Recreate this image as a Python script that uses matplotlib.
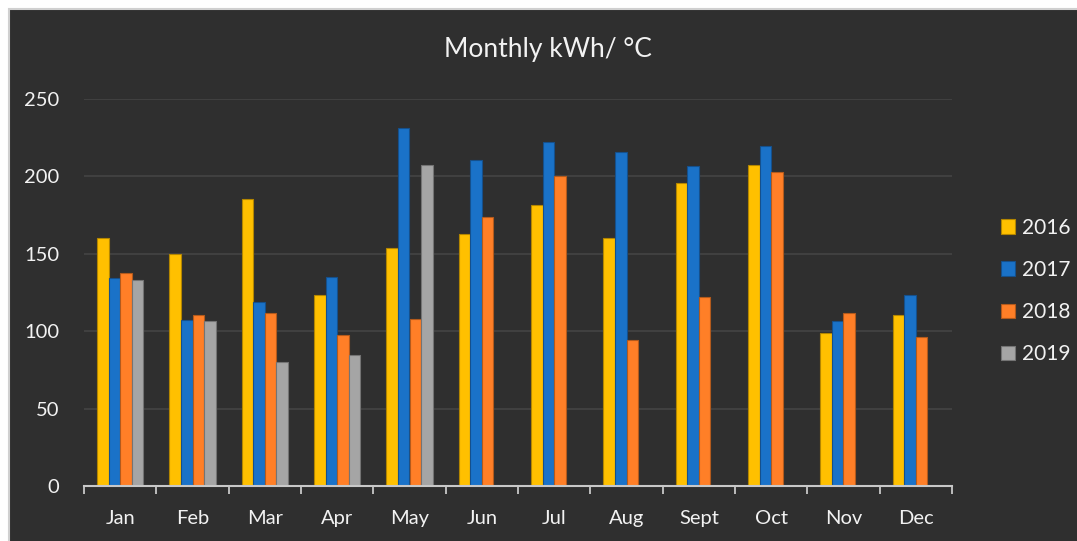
import matplotlib.pyplot as plt
import numpy as np
from matplotlib.patches import Rectangle

# monthly kWh per degree
months = ['Jan', 'Feb', 'Mar', 'Apr', 'May', 'Jun', 'Jul', 'Aug', 'Sept', 'Oct', 'Nov', 'Dec']
years = ['2016', '2017', '2018', '2019']
kwh_2016 = [160.4, 149.9, 185.6, 123.4, 154.0, 163.0, 181.3, 160.2, 195.7, 207.2, 98.6, 110.2]
kwh_2017 = [134.4, 107.0, 119.1, 135.2, 231.1, 210.4, 222.4, 215.6, 206.9, 219.4, 106.4, 123.6]
kwh_2018 = [137.8, 110.5, 111.8, 97.3, 107.9, 173.6, 200.0, 94.1, 122.1, 202.6, 111.5, 96.2]
kwh_2019 = [132.9, 106.8, 80.3, 84.4, 207.4] + [np.nan] * 7

series = [kwh_2016, kwh_2017, kwh_2018, kwh_2019]
colors = ['#FFC000', '#1A72C8', '#FF7F27', '#A5A5A5']
edges = ['#B38600', '#15508C', '#B35A1C', '#747474']

BG = '#2F2F2F'
TXT = '#F2F2F2'

plt.rcParams['font.family'] = ['Lato', 'DejaVu Sans']

fig = plt.figure(figsize=(10.77, 5.41), dpi=100, facecolor='white')
# dark chart area, light frame only shows on top/left (rest is pushed off the canvas)
fig.patches.append(Rectangle((9 / 1077, -0.05), 1.1, 532 / 541 + 0.05, transform=fig.transFigure,
                             facecolor=BG, edgecolor='#D0D0D0', linewidth=1.5, zorder=-10))

ax = fig.add_axes([84 / 1077, 55 / 541, 868 / 1077, 387 / 541])
ax.patch.set_alpha(0)

x = np.arange(len(months))
w = 0.161
for i, (vals, c, ec, lab) in enumerate(zip(series, colors, edges, years)):
    ax.bar(x + (i - 1.5) * w, vals, width=w, color=c, edgecolor=ec, linewidth=0.8,
           label=lab, zorder=3)

ax.set_xlim(-0.5, 11.5)
ax.set_ylim(0, 250)
ax.set_yticks(np.arange(0, 251, 50))
ax.yaxis.grid(True, color='#444444', linewidth=1.2, zorder=0)
ax.set_axisbelow(True)

ax.set_xticks(x)
ax.set_xticklabels(months)
ax.set_xticks(np.arange(-0.5, 12, 1), minor=True)
ax.tick_params(axis='x', which='major', length=0, pad=17, colors=TXT, labelsize=14.5)
ax.tick_params(axis='x', which='minor', length=6, width=1.3, color='#C8C8C8', direction='out')
ax.tick_params(axis='y', length=0, pad=18, colors=TXT, labelsize=14.5)

for s in ['top', 'right', 'left']:
    ax.spines[s].set_visible(False)
ax.spines['bottom'].set_color('#C8C8C8')
ax.spines['bottom'].set_linewidth(1.5)
ax.spines['bottom'].set_zorder(4)

fig.text(548 / 1077, 1 - 49 / 541, 'Monthly kWh/ °C', ha='center', va='center',
         color=TXT, fontsize=19)

leg = fig.legend(loc='center left', bbox_to_anchor=(982 / 1077, 1 - 291 / 541),
                 frameon=False, fontsize=15, labelcolor=TXT, handlelength=0.7,
                 handleheight=0.7, handletextpad=0.3, labelspacing=1.07)

plt.savefig('out.png', dpi=100, facecolor=fig.get_facecolor())
